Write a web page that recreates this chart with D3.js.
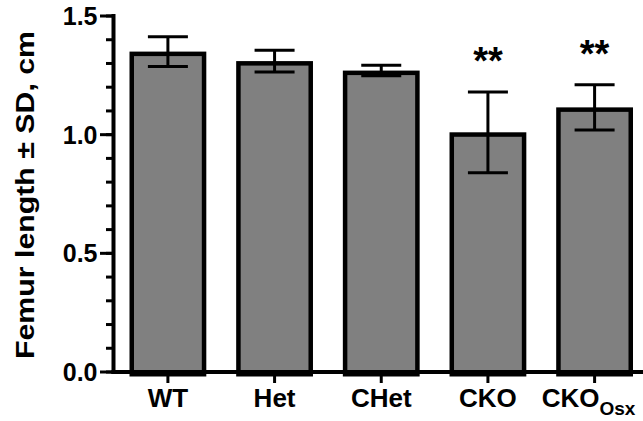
<!DOCTYPE html>
<html>
<head>
<meta charset="utf-8">
<script src="https://cdn.jsdelivr.net/npm/d3@7"></script>
<style>
  html, body { margin: 0; padding: 0; background: #fff; }
  svg { display: block; }
  text { font-family: "Liberation Sans", Arial, sans-serif; font-weight: bold; fill: #000; }
</style>
</head>
<body>
<svg id="chart" width="643" height="421"></svg>
<script>
// Femur length by genotype (mean ± SD, cm)
const groups = ["WT", "Het", "CHet", "CKO", "CKOOsx"];
const means  = [1.35, 1.31, 1.27, 1.01, 1.115];
const sds    = [0.063, 0.046, 0.022, 0.17, 0.095];
const stars  = ["", "", "", "**", "**"];
const yTicks = [0, 0.5, 1.0, 1.5];
const yMinorTicks = d3.range(0, 1.5001, 0.1);

const svg = d3.select("#chart");

const y = d3.scaleLinear().domain([0, 1.5]).range([372, 16]);
const x = d3.scaleBand().domain(groups).range([113.5, 649])
  .paddingInner(0.28).paddingOuter(0.15);

const barStroke = 4.5;

// Bars: the outline sits inside the bar so the outer edge marks the mean
svg.append("g").selectAll("rect")
  .data(groups)
  .join("rect")
  .attr("x", (d) => x(d) + barStroke / 2)
  .attr("y", (d, i) => y(means[i]) + barStroke / 2)
  .attr("width", x.bandwidth() - barStroke)
  .attr("height", (d, i) => y(0) - y(means[i]))
  .attr("fill", "#808080")
  .attr("stroke", "#000")
  .attr("stroke-width", barStroke);

// Error bars
const capHalf = 20;
const err = svg.append("g").attr("stroke", "#000").attr("stroke-width", 3);
groups.forEach((g, i) => {
  const cx = x(g) + x.bandwidth() / 2;
  const yHi = y(means[i] + sds[i]);
  const yLo = y(means[i] - sds[i]);
  err.append("line").attr("x1", cx).attr("x2", cx).attr("y1", yHi).attr("y2", yLo);
  err.append("line").attr("x1", cx - capHalf).attr("x2", cx + capHalf).attr("y1", yHi).attr("y2", yHi);
  err.append("line").attr("x1", cx - capHalf).attr("x2", cx + capHalf).attr("y1", yLo).attr("y2", yLo);
});

// Significance marks
svg.append("g").selectAll("text")
  .data(groups.filter((g, i) => stars[i]))
  .join("text")
  .attr("x", (d) => x(d) + x.bandwidth() / 2)
  .attr("y", (d) => { const i = groups.indexOf(d); return y(means[i] + sds[i]) - 18; })
  .attr("text-anchor", "middle")
  .style("font-size", "38px")
  .text((d) => stars[groups.indexOf(d)]);

// Y axis
const yAxis = svg.append("g").attr("stroke", "#000");
yAxis.append("line").attr("x1", 113.5).attr("x2", 113.5)
  .attr("y1", y(1.5) - 2).attr("y2", y(0) + 2).attr("stroke-width", 4);
yAxis.selectAll("line.minor")
  .data(yMinorTicks)
  .join("line").attr("class", "minor")
  .attr("x1", 106).attr("x2", 113.5)
  .attr("y1", (d) => y(d)).attr("y2", (d) => y(d))
  .attr("stroke-width", 3);
yAxis.selectAll("line.major")
  .data(yTicks)
  .join("line").attr("class", "major")
  .attr("x1", 100).attr("x2", 113.5)
  .attr("y1", (d) => y(d)).attr("y2", (d) => y(d))
  .attr("stroke-width", 3);
svg.append("g").selectAll("text")
  .data(yTicks)
  .join("text")
  .attr("x", 97.5)
  .attr("y", (d) => y(d))
  .attr("dy", "0.36em")
  .attr("text-anchor", "end")
  .style("font-size", "25px")
  .text((d) => d3.format(".1f")(d));

// X axis
svg.append("line").attr("x1", 111.5).attr("x2", 643)
  .attr("y1", y(0)).attr("y2", y(0))
  .attr("stroke", "#000").attr("stroke-width", 4);
svg.append("g").selectAll("line")
  .data(groups)
  .join("line")
  .attr("x1", (d) => x(d) + x.bandwidth() / 2).attr("x2", (d) => x(d) + x.bandwidth() / 2)
  .attr("y1", y(0)).attr("y2", y(0) + 11)
  .attr("stroke", "#000").attr("stroke-width", 3);

const xLabels = svg.append("g").selectAll("text")
  .data(groups)
  .join("text")
  .attr("x", (d) => x(d) + x.bandwidth() / 2 + (d === "CKOOsx" ? -6 : 0))
  .attr("y", 406.5)
  .attr("text-anchor", "middle")
  .style("font-size", "26px");
xLabels.each(function (d) {
  const t = d3.select(this);
  if (d === "CKOOsx") {
    t.append("tspan").text("CKO");
    t.append("tspan").attr("dy", 8).style("font-size", "19px").text("Osx");
  } else {
    t.text(d);
  }
});

// Y axis title
svg.append("text")
  .attr("transform", "translate(34,195) rotate(-90)")
  .attr("text-anchor", "middle")
  .attr("textLength", 328)
  .attr("lengthAdjust", "spacingAndGlyphs")
  .style("font-size", "26px")
  .text("Femur length ± SD, cm");
</script>
</body>
</html>
